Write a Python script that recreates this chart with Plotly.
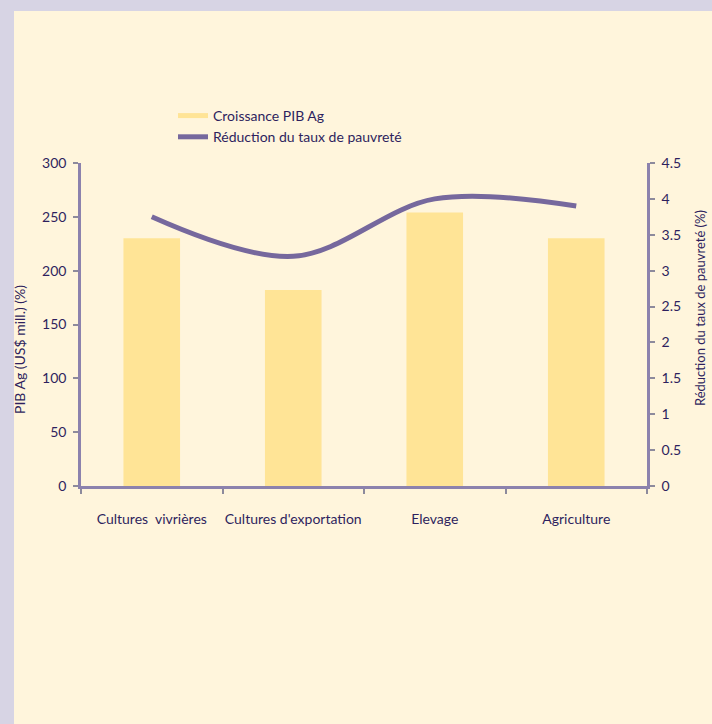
import plotly.graph_objects as go

# Sectors and values
categories = ["Cultures  vivrières", "Cultures d'exportation", "Elevage", "Agriculture"]
pib_growth = [230, 182, 254, 230]          # Croissance PIB Ag (left axis)
poverty_reduction = [3.75, 3.2, 4.0, 3.9]   # Réduction du taux de pauvreté (right axis)

left_ticks = [0, 50, 100, 150, 200, 250, 300]
right_ticks = [0, 0.5, 1, 1.5, 2, 2.5, 3, 3.5, 4, 4.5]
right_labels = ["0", "0.5", "1", "1.5", "2", "2.5", "3", "3.5", "4", "4.5"]

CREAM = "#fff5dc"
LAVENDER = "#d7d4e4"
BAR = "#ffe496"
LINE = "#76689d"
AXIS = "#8c82ad"
TEXT = "#2e1f5e"
FONT = "Lato, sans-serif"

L, R, T, B = 81, 65, 163, 238
W, H = 712, 724
pw, ph = W - L - R, H - T - B

fig = go.Figure()
fig.add_trace(go.Bar(
    x=categories, y=pib_growth, name="Croissance PIB Ag",
    marker=dict(color=BAR, line=dict(width=0)), width=0.4,
    yaxis="y", showlegend=False,
))
# legend key for the bars, drawn as a short yellow stroke
fig.add_trace(go.Scatter(
    x=[None], y=[None], name="Croissance PIB Ag", mode="lines",
    line=dict(color=BAR, width=5), yaxis="y", showlegend=True,
))
fig.add_trace(go.Scatter(
    x=categories, y=poverty_reduction, name="Réduction du taux de pauvreté",
    mode="lines", line=dict(color=LINE, width=5, shape="spline", smoothing=1.0),
    yaxis="y2",
))

# cream panel on lavender page
fig.add_shape(type="rect", xref="paper", yref="paper",
              x0=(14 - L) / pw, x1=(W - L) / pw,
              y0=-(H - T - ph) / ph - 0.01, y1=1 + (T - 11) / ph,
              fillcolor=CREAM, line=dict(width=0), layer="below")

axis_common = dict(showgrid=False, zeroline=False, showline=True, linecolor=AXIS,
                   linewidth=2.5, ticks="outside", ticklen=5, tickwidth=2,
                   tickcolor="#8d8a9c", tickfont=dict(family=FONT, size=14, color=TEXT))

fig.update_layout(
    width=W, height=H,
    margin=dict(l=L, r=R, t=T, b=B, pad=0),
    paper_bgcolor=LAVENDER, plot_bgcolor="rgba(0,0,0,0)",
    showlegend=True,
    legend=dict(x=(173 - L) / pw, y=1 + (163 - 100) / ph, xanchor="left", yanchor="top",
                bgcolor="rgba(0,0,0,0)", font=dict(family=FONT, size=14, color=TEXT),
                traceorder="normal", itemwidth=30, tracegroupgap=2),
    xaxis=dict(**axis_common, type="category", tickson="boundaries", tickangle=0,
               ticklabelstandoff=18, range=[-0.5, 3.5]),
    yaxis=dict(**axis_common, range=[0, 300], tickvals=left_ticks, ticklabelstandoff=4),
    yaxis2=dict(**axis_common, range=[0, 4.5], tickvals=right_ticks, ticktext=right_labels,
                overlaying="y", side="right", ticklabelstandoff=4),
    bargap=0.6,
)

fig.add_annotation(text="PIB Ag (US$ mill.) (%)", xref="paper", yref="paper",
                   x=(19 - L) / pw, y=(T + ph - 350) / ph, textangle=-90, showarrow=False,
                   xanchor="center", yanchor="middle",
                   font=dict(family=FONT, size=14, color=TEXT))
fig.add_annotation(text="Réduction du taux de pauvreté (%)", xref="paper", yref="paper",
                   x=(700 - L) / pw, y=(T + ph - 308) / ph, textangle=-90, showarrow=False,
                   xanchor="center", yanchor="middle",
                   font=dict(family=FONT, size=13, color=TEXT))

fig.write_html("out.html")
